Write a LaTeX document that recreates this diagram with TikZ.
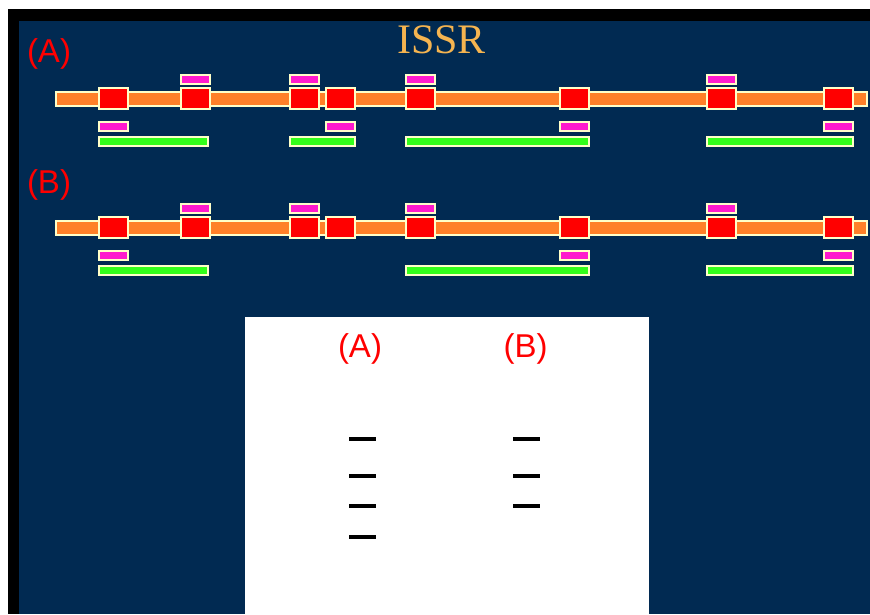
\documentclass[tikz,border=0pt]{standalone}
\usepackage{fontspec}
\setmainfont{Liberation Serif}
\setsansfont{Liberation Sans}
\definecolor{navy}{RGB}{1,42,82}
\definecolor{cream}{RGB}{255,255,200}
\definecolor{barc}{RGB}{255,128,40}
\definecolor{pinkp}{RGB}{255,26,205}
\definecolor{greenp}{RGB}{51,255,26}
\definecolor{titlec}{RGB}{245,180,80}
\definecolor{edgec}{RGB}{110,130,120}
\begin{document}
\begin{tikzpicture}[x=1pt,y=-1pt,
  outl/.style={draw=cream,line width=2pt,preaction={draw=edgec,line width=3pt}},
  dnabar/.style={outl,fill=barc},
  site/.style={outl,fill=red},
  primer/.style={outl,fill=pinkp},
  product/.style={outl,fill=greenp},
  band/.style={line width=4.5pt,black},
  lab/.style={text=red,font=\sffamily\fontsize{33}{33}\selectfont,inner sep=0pt}]
\useasboundingbox (0,0) rectangle (870,614);
\fill[white] (0,0) rectangle (870,614);
\fill[black] (8,9) rectangle (870,614);
\fill[navy] (19,21) rectangle (870,614);
\node[text=titlec,font=\fontsize{42}{42}\selectfont,anchor=base,inner sep=0pt] (title) at (441.5,53) {ISSR};
\node[lab] (labA) at (49,54) {(A)};
\node[lab] (labB) at (49,185) {(B)};
% row A
\draw[dnabar] (56.2,92.2) rectangle (866.8,105.8);
\foreach \x in {98,180,289,325,405,559,706,823}
  \draw[site] (\x+1.2,88.2) rectangle (\x+29.8,108.8);
\foreach \x in {180,289,405,706}
  \draw[primer] (\x+1.2,75.2) rectangle (\x+29.8,83.8);
\foreach \x in {98,325,559,823}
  \draw[primer] (\x+1.2,122.2) rectangle (\x+29.8,130.8);
\foreach \a/\b in {98/209,289/356,405/590,706/854}
  \draw[product] (\a+1.2,137.2) rectangle (\b-1.2,145.8);
% row B
\begin{scope}[yshift=-129pt]
\draw[dnabar] (56.2,92.2) rectangle (866.8,105.8);
\foreach \x in {98,180,289,325,405,559,706,823}
  \draw[site] (\x+1.2,88.2) rectangle (\x+29.8,108.8);
\foreach \x in {180,289,405,706}
  \draw[primer] (\x+1.2,75.2) rectangle (\x+29.8,83.8);
\foreach \x in {98,559,823}
  \draw[primer] (\x+1.2,122.2) rectangle (\x+29.8,130.8);
\foreach \a/\b in {98/209,405/590,706/854}
  \draw[product] (\a+1.2,137.2) rectangle (\b-1.2,145.8);
\end{scope}
% gel panel
\fill[white] (245,317) rectangle (649,614);
\node[lab] (gelA) at (360,349) {(A)};
\node[lab] (gelB) at (525.5,349) {(B)};
\foreach \y in {439,476,506,537}
  \draw[band] (349,\y) -- (376,\y);
\foreach \y in {439,476,506}
  \draw[band] (513,\y) -- (540,\y);
\end{tikzpicture}
\end{document}
